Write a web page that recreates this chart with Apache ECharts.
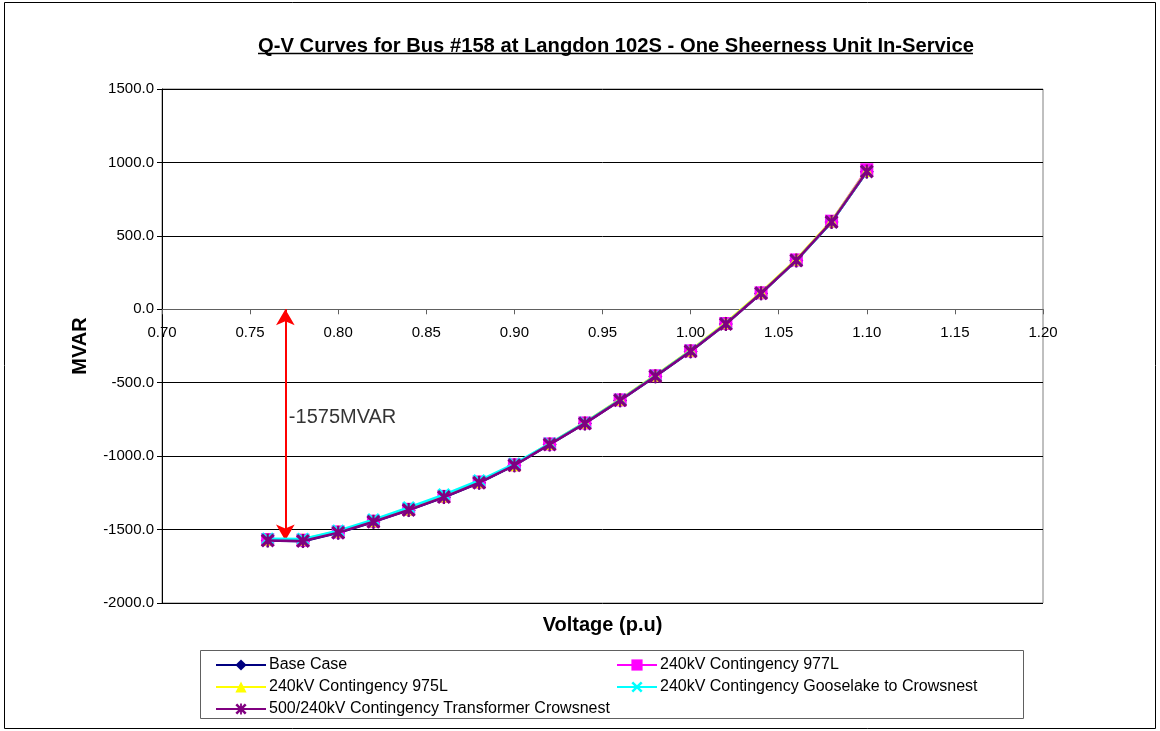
<!DOCTYPE html>
<html>
<head>
<meta charset="utf-8">
<title>Q-V Curves for Bus #158 at Langdon 102S</title>
<script src="https://cdn.jsdelivr.net/npm/echarts@6/dist/echarts.min.js"></script>
<style>
  html, body { margin: 0; padding: 0; background: #ffffff; }
  #chart { width: 1160px; height: 731px; }
</style>
</head>
<body>
<div id="chart"></div>
<script>
// Bus voltage (p.u.) at which reactive power was evaluated
const voltage = [0.76, 0.78, 0.80, 0.82, 0.84, 0.86, 0.88, 0.90, 0.92, 0.94, 0.96, 0.98, 1.00, 1.02, 1.04, 1.06, 1.08, 1.10];

// Reactive power (MVAR) per study case
const baseCase      = [-1575, -1580, -1522, -1448, -1368, -1280, -1182, -1063, -921, -778, -621, -457, -287, -101, 108, 332, 594, 936];
const cont977L      = [-1568, -1572, -1516, -1443, -1362, -1274, -1176, -1059, -917, -774, -617, -453, -283, -97, 112, 336, 600, 950];
const cont975L      = [-1566, -1566, -1512, -1440, -1360, -1272, -1174, -1058, -914, -770, -613, -449, -279, -92, 117, 340, 602, 945];
const contGooselake = [-1562, -1564, -1508, -1432, -1350, -1262, -1166, -1052, -914, -772, -616, -452, -283, -98, 110, 333, 594, 938];
const contXfmr      = [-1574, -1578, -1521, -1447, -1367, -1279, -1181, -1062, -920, -777, -620, -456, -286, -100, 109, 333, 595, 938];

// Annotation: reactive margin arrow
const marginVoltage = 0.77;
const marginTop = 0;
const marginBottom = -1575;
const marginLabel = '-1575MVAR';
const marginLabelPos = [0.772, -735];

const seriesNames = [
  'Base Case',
  '240kV Contingency 977L',
  '240kV Contingency 975L',
  '240kV Contingency Gooselake to Crowsnest',
  '500/240kV Contingency Transformer Crowsnest'
];

const Y_MIN = -2000, Y_MAX = 1500;

const X_PATH = 'path://M0,1.6L1.6,0L5,3.4L8.4,0L10,1.6L6.6,5L10,8.4L8.4,10L5,6.6L1.6,10L0,8.4L3.4,5Z';
const STAR_PATH = 'path://M0,1.6L1.6,0L5,3.4L8.4,0L10,1.6L6.6,5L10,8.4L8.4,10L5,6.6L1.6,10L0,8.4L3.4,5Z M4.2,0L5.8,0L5.8,10L4.2,10Z';

const pairs = arr => voltage.map((v, i) => [v, arr[i]]);

function curve(name, values, color, symbol, size, z) {
  return {
    name: name,
    type: 'line',
    data: pairs(values),
    symbol: symbol,
    symbolSize: size,
    showSymbol: true,
    z: z,
    lineStyle: { color: color, width: 2.5 },
    itemStyle: { color: color, borderWidth: 0 },
    emphasis: { disabled: true },
    animation: false
  };
}

const FONT = 'Liberation Sans, Arial, sans-serif';

// Plot box geometry; the voltage axis is drawn across the zero line
const GRID_TOP = 89, GRID_BOTTOM = 128, CHART_H = 731;
const plotH = CHART_H - GRID_TOP - GRID_BOTTOM;
const zeroFromBottom = plotH * (0 - Y_MIN) / (Y_MAX - Y_MIN);

const chart = echarts.init(document.getElementById('chart'), null, { renderer: 'canvas' });

chart.setOption({
  backgroundColor: '#ffffff',
  animation: false,
  title: {
    text: 'Q-V Curves for Bus #158 at Langdon 102S - One Sheerness Unit In-Service',
    left: 611,
    top: 31,
    textAlign: 'center',
    textStyle: { fontFamily: FONT, fontSize: 20.2, fontWeight: 'bold', color: '#000' }
  },
  grid: {
    left: 162, right: 117, top: GRID_TOP, bottom: GRID_BOTTOM,
    outerBoundsMode: 'none',
    containLabel: false,
    show: true, borderColor: '#808080', borderWidth: 1, backgroundColor: '#ffffff'
  },
  xAxis: {
    type: 'value',
    position: 'bottom',
    offset: -zeroFromBottom,
    min: 0.70, max: 1.20, interval: 0.05,
    name: 'Voltage (p.u)',
    nameLocation: 'middle',
    nameGap: 306,
    nameTextStyle: { fontFamily: FONT, fontSize: 20, fontWeight: 'bold', color: '#000' },
    axisLine: { onZero: false, lineStyle: { color: '#606060', width: 1 } },
    axisTick: { show: true, length: 5, inside: false, lineStyle: { color: '#606060' } },
    axisLabel: { fontFamily: FONT, fontSize: 15, color: '#000', margin: 16, formatter: v => v.toFixed(2), showMinLabel: true, showMaxLabel: true },
    splitLine: { show: false }
  },
  yAxis: {
    type: 'value',
    min: Y_MIN, max: Y_MAX, interval: 500,
    name: 'MVAR',
    nameLocation: 'middle',
    nameRotate: 90,
    nameGap: 72,
    nameTextStyle: { fontFamily: FONT, fontSize: 20, fontWeight: 'bold', color: '#000' },
    axisLine: { show: true, onZero: false, lineStyle: { color: '#000', width: 1 } },
    axisTick: { show: true, length: 5, lineStyle: { color: '#000' } },
    axisLabel: { fontFamily: FONT, fontSize: 15, color: '#000', margin: 8, formatter: v => v.toFixed(1) },
    splitLine: { show: true, lineStyle: { color: '#000', width: 1 } }
  },
  legend: [
    {
      data: [seriesNames[0], seriesNames[2], seriesNames[4]],
      orient: 'vertical',
      left: 210, top: 652,
      itemWidth: 50, itemHeight: 14, itemGap: 6,
      textStyle: { fontFamily: FONT, fontSize: 16, color: '#000', padding: [0, 0, 0, -2] },
      selectedMode: false
    },
    {
      data: [seriesNames[1], seriesNames[3]],
      orient: 'vertical',
      left: 611, top: 652,
      itemWidth: 40, itemHeight: 14, itemGap: 6,
      textStyle: { fontFamily: FONT, fontSize: 16, color: '#000', padding: [0, 0, 0, -2] },
      selectedMode: false
    }
  ],
  graphic: [
    { type: 'rect', shape: { x: 4.5, y: 2.5, width: 1151, height: 726 }, style: { fill: null, stroke: '#000', lineWidth: 1 }, silent: true, z: -10 },
    { type: 'rect', shape: { x: 200.5, y: 650.5, width: 823, height: 68 }, style: { fill: null, stroke: '#606060', lineWidth: 1 }, silent: true, z: -5 },
    { type: 'line', shape: { x1: 258, y1: 53.5, x2: 973, y2: 53.5 }, style: { stroke: '#000', lineWidth: 1.5 }, silent: true }
  ],
  series: [
    curve(seriesNames[0], baseCase, '#000080', 'diamond', 14, 2),
    curve(seriesNames[1], cont977L, '#FF00FF', 'rect', 13, 3),
    curve(seriesNames[2], cont975L, '#FFFF00', 'triangle', 13, 4),
    curve(seriesNames[3], contGooselake, '#00FFFF', X_PATH, 13, 5),
    curve(seriesNames[4], contXfmr, '#800080', STAR_PATH, 14, 6),
    {
      name: 'margin',
      type: 'scatter',
      data: [{ value: marginLabelPos, label: { show: true, formatter: marginLabel } }],
      symbolSize: 0,
      z: 10,
      silent: true,
      label: { position: 'right', distance: 0, fontFamily: FONT, fontSize: 20, color: '#000' },
      markLine: {
        silent: true,
        symbol: ['arrow', 'arrow'],
        symbolSize: [14, 16],
        label: { show: false },
        lineStyle: { color: '#FF0000', width: 2, type: 'solid' },
        data: [[{ coord: [marginVoltage, marginTop] }, { coord: [marginVoltage, marginBottom] }]]
      }
    }
  ]
});
</script>
</body>
</html>
